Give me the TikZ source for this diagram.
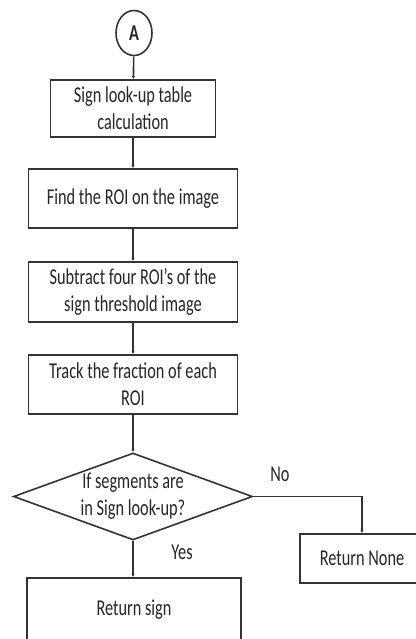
\documentclass[tikz,border=0pt]{standalone}
\usepackage{fontspec}
\setmainfont{Carlito}[FakeStretch=0.72]
\usepackage{tikz}
\usetikzlibrary{arrows.meta,shapes,positioning,calc}

\tikzset{
  proc/.style={draw=black!80, line width=1.2pt, rectangle, align=center, inner sep=0pt,
    font=\fontsize{17}{20.5}\selectfont, text=black!85},
  flowline/.style={draw=black!80, line width=1.2pt, -{Latex[length=2.5pt,width=2.5pt]}}
}

\begin{document}
\begin{tikzpicture}[x=0.75pt,y=-0.75pt]
    \clip (0,0) rectangle (416,639);
    \fill[white] (0,0) rectangle (416,639);
    % Connector and process steps
    \node[proc, ellipse, minimum width=27pt, minimum height=33.75pt, font=\fontsize{17}{18}\selectfont\bfseries] (conA) at (134,33) {A};
    \node[proc, minimum width=123.75pt, minimum height=42.75pt] (lookup) at (133,108.5) {Sign look-up table\\calculation};
    \node[proc, minimum width=156.75pt, minimum height=44.25pt] (findroi) at (133,198.5) {Find the ROI on the image};
    \node[proc, minimum width=156.75pt, minimum height=45pt] (subtract) at (133,292) {Subtract four ROI's of the\\sign threshold image};
    \node[proc, minimum width=156.75pt, minimum height=44.25pt] (track) at (133,384.5) {Track the fraction of each\\ROI};

    % Decision
    \node[proc, diamond, shape aspect=2.75, minimum width=179.25pt, minimum height=65.25pt] (check) at (133,496.5) {If segments are\\in Sign look-up?};

    % Outcomes
    \node[proc, minimum width=160.5pt, minimum height=48pt] (retsign) at (134,610) {Return sign};
    \node[proc, minimum width=93pt, minimum height=36.75pt] (retnone) at (362,558.5) {Return None};

    % Connections
    \draw[flowline] (conA) -- (lookup);
    \draw[flowline] (lookup) -- (findroi);
    \draw[flowline] (findroi) -- (subtract);
    \draw[flowline] (subtract) -- (track);
    \draw[flowline] (track) -- (check);
    \draw[flowline] (check.south) -- (check.south |- retsign.north);
    \draw[flowline] (check.east) -| (retnone.north);

    % Branch labels
    \node[font=\fontsize{17}{18}\selectfont, text=black!85] (nolabel) at (280,474) {No};
    \node[font=\fontsize{17}{18}\selectfont, text=black!85] (yeslabel) at (182,552) {Yes};
\end{tikzpicture}
\end{document}
